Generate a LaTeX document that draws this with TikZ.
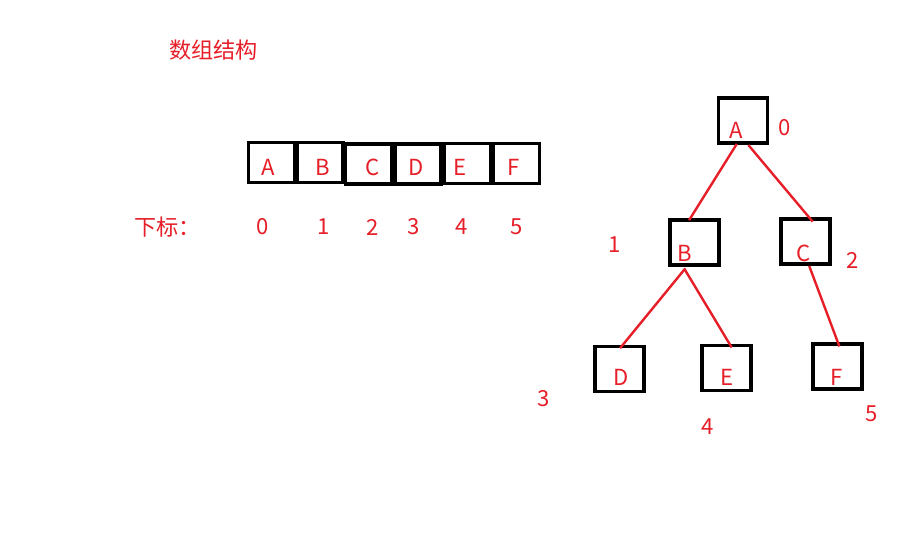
\documentclass[tikz,border=0pt]{standalone}
\usepackage{fontspec}
\setmainfont{Noto Sans CJK SC}
\definecolor{pred}{RGB}{230,30,40}
\begin{document}
\begin{tikzpicture}[x=0.75pt,y=-0.75pt,
  box/.style={draw=black,line width=2.4pt,inner sep=0pt,minimum width=#1*0.75pt},
  abox/.style={box=46,minimum height=30pt},
  tbox/.style={box=49,minimum height=33.75pt},
  txt/.style={text=pred,inner sep=0pt,font=\fontsize{16.6}{19}\selectfont},
  edge/.style={draw=pred,line width=1.8pt}]
\useasboundingbox (0,0) rectangle (920,552);
\node[txt,anchor=west] (title) at (169,50) {数组结构};
% array
\node[abox] (a0) at (271.7,162.5) {};
\node[abox] (a1) at (320,162.3) {};
\node[abox] (a2) at (368.5,164) {};
\node[abox] (a3) at (418,164) {};
\node[abox] (a4) at (467.5,163.5) {};
\node[abox] (a5) at (516.3,163.5) {};
\node[txt] (la0) at (268,167) {A};
\node[txt] (la1) at (323,167) {B};
\node[txt] (la2) at (373,167) {C};
\node[txt] (la3) at (416,167) {D};
\node[txt] (la4) at (460,167) {E};
\node[txt] (la5) at (514,167) {F};
\node[txt,anchor=west] (idx) at (134,227) {下标：};
\node[txt] (i0) at (263,227) {0};
\node[txt] (i1) at (324,227) {1};
\node[txt] (i2) at (373,227) {2};
\node[txt] (i3) at (414,227) {3};
\node[txt] (i4) at (462,227) {4};
\node[txt] (i5) at (517,227) {5};
% tree
\node[tbox] (tA) at (743.3,120.5) {};
\node[tbox] (tB) at (694.5,242.5) {};
\node[tbox] (tC) at (805.5,241.5) {};
\node[tbox] (tD) at (619.5,369) {};
\node[tbox] (tE) at (726.5,368) {};
\node[tbox] (tF) at (837.5,366.5) {};
\node[txt] (lA) at (736,130) {A};
\node[txt] (lB) at (685,253) {B};
\node[txt] (lC) at (804,253) {C};
\node[txt] (lD) at (621,377) {D};
\node[txt] (lE) at (727,377) {E};
\node[txt] (lF) at (837,377) {F};
\node[txt] (n0) at (785,128) {0};
\node[txt] (n1) at (615,245) {1};
\node[txt] (n2) at (853,260) {2};
\node[txt] (n3) at (544,399) {3};
\node[txt] (n4) at (708,427) {4};
\node[txt] (n5) at (872,414) {5};
% edges
\draw[edge] ([xshift=-4.9pt,yshift=0.5pt]tA.south) -- ([xshift=-4.1pt,yshift=-1.4pt]tB.north);
\draw[edge] ([xshift=3.8pt,yshift=-0.3pt]tA.south) -- ([xshift=5.4pt,yshift=-3.2pt]tC.north);
\draw[edge] ([xshift=-7pt,yshift=-1.5pt]tB.south) -- ([xshift=0.4pt,yshift=-2.5pt]tD.north);
\draw[edge] ([xshift=-7.7pt,yshift=-1.5pt]tB.south) -- ([xshift=3.9pt,yshift=-2.7pt]tE.north);
\draw[edge] ([xshift=2.8pt,yshift=-0.3pt]tC.south) -- ([xshift=1.4pt,yshift=-3pt]tF.north);
\end{tikzpicture}
\end{document}
